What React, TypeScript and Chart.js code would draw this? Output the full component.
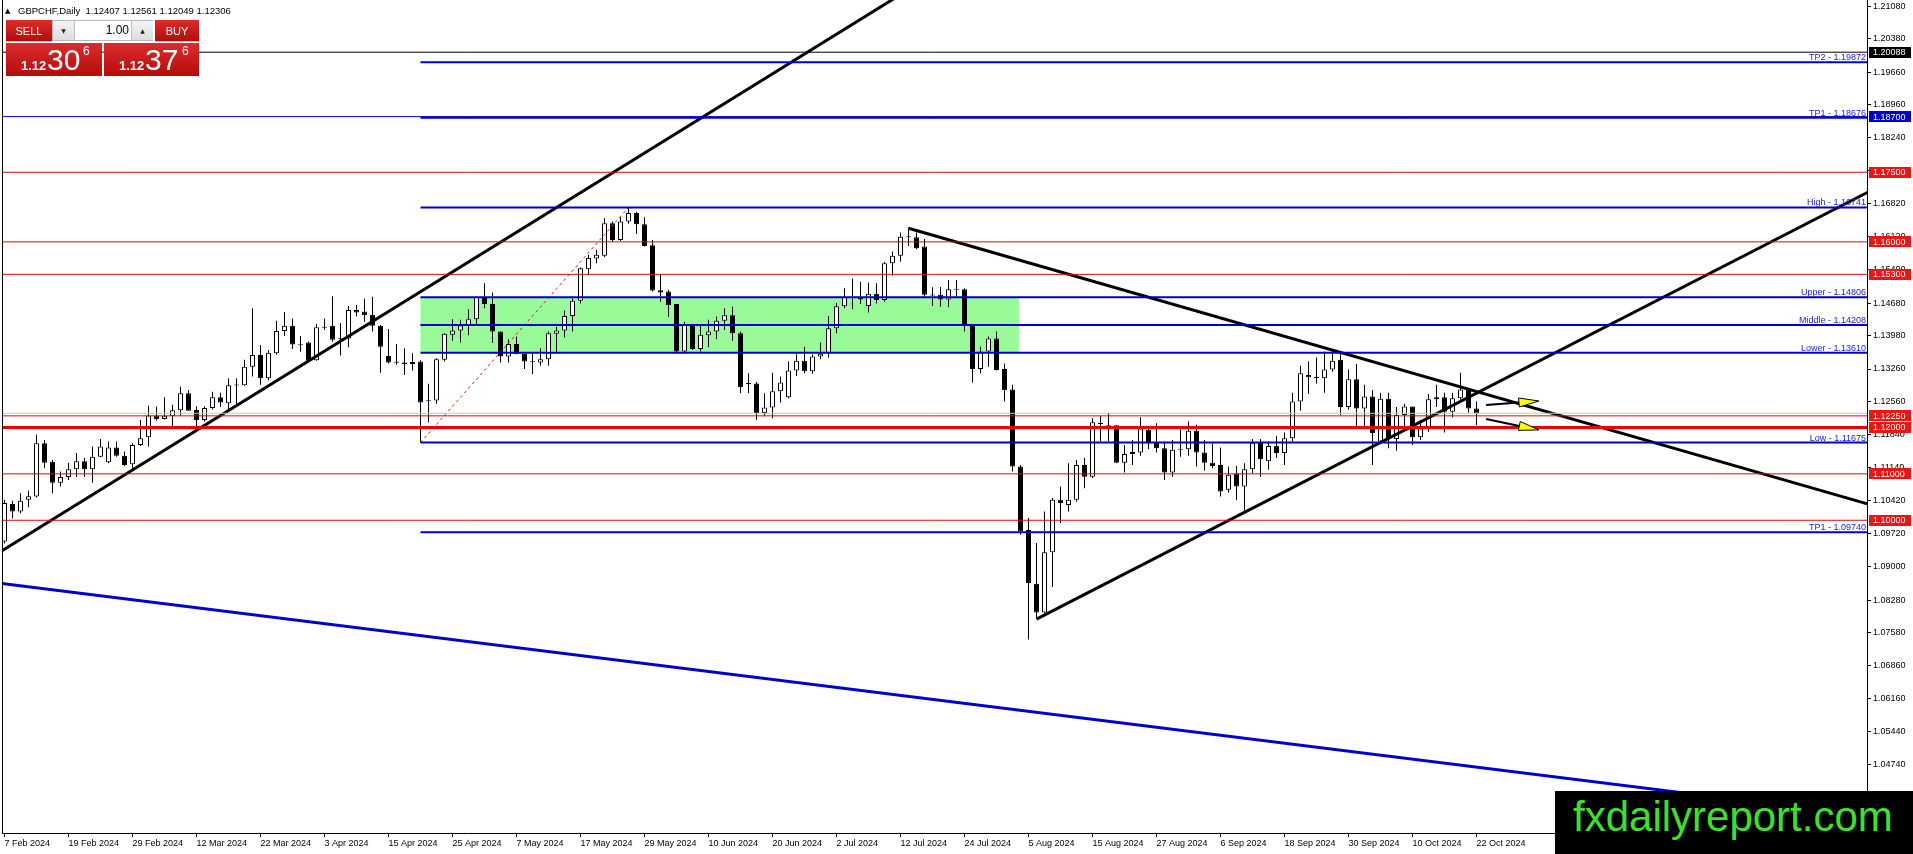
import React, { useEffect, useRef } from "react";
import { Chart, registerables } from "chart.js";

Chart.register(...registerables);

const FONT = '"Liberation Sans", Arial, sans-serif';

// ---- candles (daily, bar 0 = 7 Feb 2024) ----
const OPEN = [
  1.0954, 1.1035, 1.1019, 1.1044, 1.1051, 1.1166, 1.1126, 1.1081, 1.1093, 1.1110,
  1.1127, 1.1110, 1.1137, 1.1125, 1.1157, 1.1139, 1.1121, 1.1162, 1.1179, 1.1226,
  1.1218, 1.1224, 1.1237, 1.1274, 1.1238, 1.1216, 1.1242, 1.1265, 1.1252, 1.1291,
  1.1291, 1.1331, 1.1356, 1.1306, 1.1360, 1.1408, 1.1419, 1.1379, 1.1383, 1.1345,
  1.1417, 1.1419, 1.1392, 1.1392, 1.1453, 1.1450, 1.1443, 1.1419, 1.1354, 1.1341,
  1.1340, 1.1337, 1.1342, 1.1258, 1.1258, 1.1346, 1.1400, 1.1409, 1.1420, 1.1433,
  1.1481, 1.1466, 1.1407, 1.1353, 1.1380, 1.1359, 1.1342, 1.1340, 1.1347, 1.1402,
  1.1409, 1.1440, 1.1473, 1.1541, 1.1564, 1.1570, 1.1640, 1.1604, 1.1644, 1.1662,
  1.1638, 1.1593, 1.1496, 1.1493, 1.1466, 1.1364, 1.1421, 1.1369, 1.1399, 1.1407,
  1.1430, 1.1442, 1.1403, 1.1294, 1.1295, 1.1231, 1.1243, 1.1278, 1.1265, 1.1323,
  1.1344, 1.1321, 1.1353, 1.1361, 1.1414, 1.1461, 1.1481, 1.1481, 1.1462, 1.1488,
  1.1475, 1.1554, 1.1570, 1.1611, 1.1610, 1.1590, 1.1486, 1.1486, 1.1476, 1.1498,
  1.1498, 1.1419, 1.1326, 1.1364, 1.1392, 1.1326, 1.1282, 1.1116, 1.0979, 1.0863,
  1.0801, 1.0931, 1.1044, 1.1033, 1.1044, 1.1119, 1.1094, 1.1209, 1.1196, 1.1205,
  1.1124, 1.1143, 1.1146, 1.1195, 1.1167, 1.1155, 1.1103, 1.1153, 1.1153, 1.1193,
  1.1146, 1.1124, 1.1119, 1.1066, 1.1101, 1.1073, 1.1110, 1.1167, 1.1127, 1.1160,
  1.1145, 1.1177, 1.1256, 1.1313, 1.1307, 1.1306, 1.1325, 1.1346, 1.1244, 1.1304,
  1.1241, 1.1267, 1.1170, 1.1262, 1.1175, 1.1227, 1.1245, 1.1179, 1.1198, 1.1261,
  1.1265, 1.1234, 1.1263, 1.1282, 1.12407,
];
const HIGH = [
  1.1044, 1.1042, 1.1058, 1.1064, 1.1185, 1.1173, 1.1130, 1.1105, 1.1124, 1.1145,
  1.1134, 1.1159, 1.1175, 1.1170, 1.1170, 1.1148, 1.1166, 1.1216, 1.1247, 1.1245,
  1.1265, 1.1249, 1.1288, 1.1281, 1.1246, 1.1246, 1.1277, 1.1275, 1.1306, 1.1306,
  1.1346, 1.1457, 1.1378, 1.1367, 1.1430, 1.1449, 1.1435, 1.1397, 1.1385, 1.1423,
  1.1435, 1.1483, 1.1425, 1.1462, 1.1464, 1.1478, 1.1482, 1.1421, 1.1412, 1.1380,
  1.1371, 1.1360, 1.1345, 1.1294, 1.1349, 1.1403, 1.1433, 1.1432, 1.1455, 1.1482,
  1.1511, 1.1491, 1.1407, 1.1390, 1.1396, 1.1359, 1.1361, 1.1371, 1.1407, 1.1417,
  1.1452, 1.1478, 1.1545, 1.1572, 1.1583, 1.1651, 1.1644, 1.1653, 1.16741, 1.1665,
  1.1653, 1.1604, 1.1529, 1.1497, 1.1466, 1.1428, 1.1423, 1.1421, 1.1432, 1.1439,
  1.1457, 1.1460, 1.1407, 1.1317, 1.1298, 1.1274, 1.1318, 1.1310, 1.1342, 1.1358,
  1.1374, 1.1358, 1.1383, 1.1440, 1.1468, 1.1500, 1.1521, 1.1514, 1.1512, 1.1511,
  1.1557, 1.1579, 1.1620, 1.1631, 1.1620, 1.1606, 1.1502, 1.1503, 1.1518, 1.1518,
  1.1500, 1.1421, 1.1374, 1.1396, 1.1407, 1.1338, 1.1292, 1.1119, 1.1005, 1.0951,
  1.1019, 1.1048, 1.1073, 1.1123, 1.1130, 1.1134, 1.1220, 1.1225, 1.1232, 1.1205,
  1.1162, 1.1173, 1.1222, 1.1203, 1.1209, 1.1170, 1.1173, 1.1196, 1.1213, 1.1206,
  1.1173, 1.1166, 1.1157, 1.1116, 1.1117, 1.1123, 1.1175, 1.1175, 1.1170, 1.1182,
  1.1189, 1.1275, 1.1333, 1.1342, 1.1351, 1.1364, 1.1369, 1.1359, 1.1325, 1.1337,
  1.1292, 1.1281, 1.1275, 1.1275, 1.1244, 1.1251, 1.1245, 1.1216, 1.1272, 1.1292,
  1.1275, 1.1275, 1.1318, 1.1284, 1.12561,
];
const LOW = [
  1.0950, 1.1004, 1.1015, 1.1028, 1.1049, 1.1112, 1.1058, 1.1073, 1.1087, 1.1093,
  1.1094, 1.1081, 1.1136, 1.1123, 1.1137, 1.1117, 1.1109, 1.1160, 1.1159, 1.1215,
  1.1217, 1.1203, 1.1225, 1.1236, 1.1198, 1.1213, 1.1239, 1.1244, 1.1238, 1.1249,
  1.1290, 1.1310, 1.1292, 1.1302, 1.1357, 1.1397, 1.1369, 1.1363, 1.1342, 1.1344,
  1.1410, 1.1385, 1.1355, 1.1373, 1.1439, 1.1428, 1.1407, 1.1318, 1.1338, 1.1335,
  1.1313, 1.1323, 1.11675, 1.1211, 1.1251, 1.1342, 1.1387, 1.1383, 1.1399, 1.1421,
  1.1457, 1.1382, 1.1340, 1.1340, 1.1358, 1.1326, 1.1315, 1.1333, 1.1333, 1.1360,
  1.1394, 1.1407, 1.1467, 1.1529, 1.1554, 1.1567, 1.1600, 1.1602, 1.1639, 1.1617,
  1.1590, 1.1493, 1.1471, 1.1438, 1.1360, 1.1360, 1.1367, 1.1364, 1.1373, 1.1390,
  1.1410, 1.1387, 1.1274, 1.1274, 1.1216, 1.1224, 1.1220, 1.1254, 1.1263, 1.1311,
  1.1317, 1.1316, 1.1347, 1.1351, 1.1403, 1.1457, 1.1455, 1.1466, 1.1448, 1.1467,
  1.1471, 1.1527, 1.1557, 1.1591, 1.1584, 1.1482, 1.1462, 1.1460, 1.1459, 1.1482,
  1.1407, 1.1297, 1.1317, 1.1331, 1.1323, 1.1256, 1.1105, 1.0969, 1.0743, 1.0787,
  1.0800, 1.0856, 1.0994, 1.1019, 1.1040, 1.1069, 1.1091, 1.1170, 1.1170, 1.1123,
  1.1103, 1.1119, 1.1139, 1.1153, 1.1146, 1.1087, 1.1094, 1.1137, 1.1139, 1.1116,
  1.1107, 1.1112, 1.1051, 1.1060, 1.1043, 1.1021, 1.1101, 1.1094, 1.1109, 1.1134,
  1.1119, 1.1170, 1.1236, 1.1272, 1.1295, 1.1275, 1.1320, 1.1227, 1.1238, 1.1202,
  1.1202, 1.1119, 1.1165, 1.1155, 1.1150, 1.1201, 1.1162, 1.1173, 1.1191, 1.1244,
  1.1189, 1.1222, 1.1260, 1.1232, 1.12049,
];
const CLOSE = [
  1.1037, 1.1019, 1.1042, 1.1052, 1.1166, 1.1124, 1.1081, 1.1093, 1.1110, 1.1127,
  1.1110, 1.1137, 1.1159, 1.1157, 1.1139, 1.1119, 1.1162, 1.1177, 1.1226, 1.1218,
  1.1225, 1.1237, 1.1274, 1.1236, 1.1216, 1.1242, 1.1265, 1.1254, 1.1291, 1.1292,
  1.1331, 1.1356, 1.1306, 1.1361, 1.1408, 1.1419, 1.1379, 1.1378, 1.1344, 1.1416,
  1.1415, 1.1389, 1.1390, 1.1453, 1.1448, 1.1442, 1.1419, 1.1374, 1.1340, 1.1340,
  1.1337, 1.1341, 1.1254, 1.1257, 1.1347, 1.1402, 1.1409, 1.1420, 1.1433, 1.1481,
  1.1466, 1.1407, 1.1353, 1.1380, 1.1359, 1.1342, 1.1341, 1.1347, 1.1403, 1.1409,
  1.1440, 1.1473, 1.1543, 1.1565, 1.1572, 1.1640, 1.1604, 1.1644, 1.1662, 1.1638,
  1.1591, 1.1495, 1.1491, 1.1464, 1.1364, 1.1421, 1.1369, 1.1400, 1.1407, 1.1430,
  1.1442, 1.1403, 1.1287, 1.1295, 1.1231, 1.1243, 1.1278, 1.1297, 1.1323, 1.1344,
  1.1321, 1.1353, 1.1359, 1.1414, 1.1461, 1.1481, 1.1480, 1.1476, 1.1488, 1.1475,
  1.1554, 1.1570, 1.1611, 1.1611, 1.1586, 1.1486, 1.1485, 1.1476, 1.1498, 1.1498,
  1.1419, 1.1326, 1.1364, 1.1392, 1.1324, 1.1281, 1.1116, 1.0976, 1.0865, 1.0801,
  1.0931, 1.1044, 1.1037, 1.1044, 1.1119, 1.1094, 1.1211, 1.1208, 1.1205, 1.1124,
  1.1143, 1.1147, 1.1198, 1.1166, 1.1155, 1.1103, 1.1152, 1.1153, 1.1193, 1.1146,
  1.1124, 1.1117, 1.1062, 1.1098, 1.1073, 1.1110, 1.1167, 1.1132, 1.1160, 1.1145,
  1.1177, 1.1256, 1.1317, 1.1308, 1.1308, 1.1325, 1.1344, 1.1244, 1.1304, 1.1241,
  1.1267, 1.1188, 1.1262, 1.1175, 1.1227, 1.1245, 1.1179, 1.1198, 1.1261, 1.1265,
  1.1234, 1.1263, 1.1282, 1.1241, 1.12306,
];

// ---- axes ----
const DATE_LABELS = [
  "7 Feb 2024", "19 Feb 2024", "29 Feb 2024", "12 Mar 2024", "22 Mar 2024", "3 Apr 2024",
  "15 Apr 2024", "25 Apr 2024", "7 May 2024", "17 May 2024", "29 May 2024", "10 Jun 2024",
  "20 Jun 2024", "2 Jul 2024", "12 Jul 2024", "24 Jul 2024", "5 Aug 2024", "15 Aug 2024",
  "27 Aug 2024", "6 Sep 2024", "18 Sep 2024", "30 Sep 2024", "10 Oct 2024", "22 Oct 2024",
];
const DATE_TICK_BARS = [0, 8, 16, 24, 32, 40, 48, 56, 64, 72, 80, 88, 96, 104, 112, 120, 128, 136, 144, 152, 160, 168, 176, 184];
const PRICE_TICKS = [
  1.2108, 1.2038, 1.1966, 1.1896, 1.1824, 1.1754, 1.1682, 1.1612, 1.154, 1.1468, 1.1398, 1.1326,
  1.1256, 1.1184, 1.1114, 1.1042, 1.0972, 1.09, 1.0828, 1.0758, 1.0686, 1.0616, 1.0544, 1.0474, 1.0402,
];
const X_MIN = -0.3125;
const X_MAX = 232.8125;
const Y_MIN = 1.0326;
const Y_MAX = 1.21213;

// ---- horizontal levels ----
const RED_LEVELS = [1.175, 1.16, 1.153, 1.1225, 1.11, 1.1];
const MAIN_RED_LEVEL = 1.12;
const BID_LEVEL = 1.12306;
const BLACK_LEVEL = 1.20088;
const BLUE_LEVEL = 1.187;
const FIB_START = 52;
const FIB_NAMES = ["TP2", "TP1", "High", "Upper", "Middle", "Lower", "Low", "TP1"];
const FIB_VALUES = [1.19872, 1.18676, 1.16741, 1.14806, 1.14208, 1.1361, 1.11675, 1.0974];
const ZONE_BARS = [52, 126.8];
const ZONE_PRICES = [1.1361, 1.14806];

// axis price markers
const MARK_VALUES = [1.20088, 1.187, 1.175, 1.16, 1.153, 1.1225, 1.12, 1.11, 1.1];
const MARK_COLORS = ["#000000", "#0000cc", "#ea1515", "#ea1515", "#ea1515", "#ea1515", "#ea1515", "#ea1515", "#ea1515"];

// ---- drawn objects (bar index, price) ----
const TREND_UP_1 = [[-0.5, 1.09323], [112.5, 1.21383]];
const TREND_DOWN = [[113, 1.16293], [232.9, 1.10351]];
const TREND_UP_2 = [[129, 1.0787], [232.9, 1.17069]];
const BLUE_CHANNEL = [[-0.5, 1.08642], [232.9, 1.03631]];
const FIB_BASE = [[52, 1.11675], [78, 1.16741]];
const ARROW_UP = [[185.2, 1.12485], [191.8, 1.12571]];
const ARROW_DOWN = [[185.2, 1.12183], [191.8, 1.11946]];

const seg = (pts: number[][], color: string, width: number, dash: number[] = []) => ({
  type: "line" as const,
  data: pts.map(([x, y]) => ({ x, y })),
  borderColor: color,
  borderWidth: width,
  borderDash: dash,
  pointRadius: 0,
  fill: false,
  tension: 0,
  order: 0,
});

const overlayPlugin = {
  id: "mtOverlay",
  beforeDatasetsDraw(chart: any) {
    const { ctx, chartArea: a, scales } = chart;
    const x = scales.x, y = scales.y;
    ctx.save();
    ctx.beginPath();
    ctx.rect(a.left, a.top, a.right - a.left, a.bottom - a.top);
    ctx.clip();
    const x0 = x.getPixelForValue(ZONE_BARS[0]);
    const x1 = x.getPixelForValue(ZONE_BARS[1]);
    const y0 = y.getPixelForValue(ZONE_PRICES[1]);
    const y1 = y.getPixelForValue(ZONE_PRICES[0]);
    ctx.fillStyle = "#98fb98";
    ctx.fillRect(x0, y0, x1 - x0, y1 - y0);
    ctx.restore();
  },
  afterDatasetsDraw(chart: any) {
    const { ctx, chartArea: a, scales } = chart;
    const x = scales.x, y = scales.y;
    ctx.save();
    ctx.font = `9px ${FONT}`;
    ctx.fillStyle = "#2222cc";
    ctx.textAlign = "right";
    ctx.textBaseline = "alphabetic";
    FIB_VALUES.forEach((v, i) => {
      const py = y.getPixelForValue(v);
      ctx.fillText(`${FIB_NAMES[i]} - ${v.toFixed(5)}`, a.right - 1, py - 2);
    });
    const drawArrow = (pts: number[][]) => {
      const x1 = x.getPixelForValue(pts[0][0]);
      const y1 = y.getPixelForValue(pts[0][1]);
      const x2 = x.getPixelForValue(pts[1][0]);
      const y2 = y.getPixelForValue(pts[1][1]);
      const ang = Math.atan2(y2 - y1, x2 - x1);
      const len = 20, hw = 4.5;
      const bx = x2 - len * Math.cos(ang), by = y2 - len * Math.sin(ang);
      ctx.strokeStyle = "#000";
      ctx.lineWidth = 2;
      ctx.beginPath();
      ctx.moveTo(x1, y1);
      ctx.lineTo(bx, by);
      ctx.stroke();
      ctx.beginPath();
      ctx.moveTo(x2, y2);
      ctx.lineTo(bx + hw * Math.sin(ang), by - hw * Math.cos(ang));
      ctx.lineTo(bx - hw * Math.sin(ang), by + hw * Math.cos(ang));
      ctx.closePath();
      ctx.fillStyle = "#ffff00";
      ctx.fill();
      ctx.lineWidth = 1;
      ctx.stroke();
    };
    drawArrow(ARROW_UP);
    drawArrow(ARROW_DOWN);
    ctx.restore();
  },
  afterDraw(chart: any) {
    const { ctx, chartArea: a, scales } = chart;
    const y = scales.y;
    ctx.save();
    ctx.strokeStyle = "#000";
    ctx.lineWidth = 1;
    ctx.beginPath();
    ctx.moveTo(a.left + 0.5, a.top);
    ctx.lineTo(a.left + 0.5, a.bottom);
    ctx.stroke();
    ctx.font = `9px ${FONT}`;
    ctx.textAlign = "left";
    ctx.textBaseline = "middle";
    MARK_VALUES.forEach((v, i) => {
      const py = y.getPixelForValue(v);
      ctx.fillStyle = MARK_COLORS[i];
      ctx.fillRect(a.right + 2, Math.round(py - 5.5), 42, 11);
      ctx.fillStyle = "#ffffff";
      ctx.fillText(v.toFixed(5), a.right + 6, py + 0.5);
    });
    ctx.restore();
  },
};

export default function App() {
  const ref = useRef<HTMLCanvasElement | null>(null);

  useEffect(() => {
    document.body.style.margin = "0";
    if (!ref.current) return;
    const bars = OPEN.map((_, i) => i);
    const wickData = bars.map((i) => ({ x: i, y: [LOW[i], HIGH[i]] }));
    const bodyData = bars.map((i) => {
      let lo = Math.min(OPEN[i], CLOSE[i]);
      let hi = Math.max(OPEN[i], CLOSE[i]);
      if (hi - lo < 0.00022) {
        const m = (hi + lo) / 2;
        lo = m - 0.00011;
        hi = m + 0.00011;
      }
      return { x: i, y: [lo, hi] };
    });

    const datasets: any[] = [
      {
        type: "bar",
        data: wickData,
        backgroundColor: "#000",
        borderWidth: 0,
        barThickness: 1,
        grouped: false,
        inflateAmount: 0,
        order: 3,
      },
      {
        type: "bar",
        data: bodyData,
        backgroundColor: (c: any) => (CLOSE[c.dataIndex] > OPEN[c.dataIndex] ? "#ffffff" : "#000000"),
        borderColor: "#000",
        borderWidth: 1,
        borderSkipped: false,
        barThickness: 5,
        grouped: false,
        inflateAmount: 0,
        order: 2,
      },
      seg([[X_MIN, BLACK_LEVEL], [X_MAX, BLACK_LEVEL]], "#000000", 1),
      seg([[X_MIN, BLUE_LEVEL], [X_MAX, BLUE_LEVEL]], "#0000cc", 1),
      ...RED_LEVELS.map((v) => seg([[X_MIN, v], [X_MAX, v]], "#cc1010", 1)),
      seg([[X_MIN, BID_LEVEL], [X_MAX, BID_LEVEL]], "#e8b8b8", 1),
      seg([[X_MIN, MAIN_RED_LEVEL], [X_MAX, MAIN_RED_LEVEL]], "#ee0000", 3),
      ...FIB_VALUES.map((v) => seg([[FIB_START, v], [X_MAX, v]], "#0000c8", 2)),
      seg(FIB_BASE, "#dd2222", 1, [3, 3]),
      seg(BLUE_CHANNEL, "#0000cc", 3),
      seg(TREND_UP_1, "#000000", 3),
      seg(TREND_DOWN, "#000000", 3),
      seg(TREND_UP_2, "#000000", 3),
    ];

    const chart = new Chart(ref.current, {
      type: "line",
      data: { datasets },
      plugins: [overlayPlugin],
      options: {
        animation: false,
        responsive: false,
        devicePixelRatio: 1,
        events: [],
        layout: { padding: { left: 2, right: 0, top: 0, bottom: 0 } },
        plugins: { legend: { display: false }, tooltip: { enabled: false } },
        scales: {
          x: {
            type: "linear",
            position: "bottom",
            offset: false,
            min: X_MIN,
            max: X_MAX,
            afterBuildTicks: (s: any) => {
              s.ticks = DATE_TICK_BARS.map((v) => ({ value: v }));
            },
            afterFit: (s: any) => {
              s.height = 21;
              s.paddingLeft = 0;
              s.paddingRight = 0;
            },
            ticks: {
              callback: (_v: any, i: number) => DATE_LABELS[i],
              align: "start",
              maxRotation: 0,
              minRotation: 0,
              autoSkip: false,
              padding: 1,
              color: "#000",
              font: { family: FONT, size: 9 },
            },
            grid: { offset: false, drawOnChartArea: false, drawTicks: true, tickLength: 4, tickColor: "#000", color: "#000" },
            border: { display: true, color: "#000", width: 1 },
          },
          y: {
            type: "linear",
            position: "right",
            beginAtZero: false,
            min: Y_MIN,
            max: Y_MAX,
            afterBuildTicks: (s: any) => {
              s.ticks = PRICE_TICKS.map((v) => ({ value: v }));
            },
            afterFit: (s: any) => {
              s.width = 46;
              s.paddingTop = 0;
              s.paddingBottom = 0;
            },
            ticks: {
              callback: (v: any) => Number(v).toFixed(5),
              autoSkip: false,
              padding: 2,
              color: "#000",
              font: { family: FONT, size: 9 },
            },
            grid: { drawOnChartArea: false, drawTicks: true, tickLength: 4, tickColor: "#000", color: "#000" },
            border: { display: true, color: "#000", width: 1 },
          },
        },
      } as any,
    });
    return () => chart.destroy();
  }, []);

  const redBox = "linear-gradient(#dc2c2c, #b40c0c)";
  const abs = (o: any) => ({ position: "absolute" as const, ...o });

  return (
    <div style={{ position: "relative", width: 1913, height: 854, background: "#fff", overflow: "hidden", fontFamily: FONT }}>
      <canvas ref={ref} width={1913} height={854} style={{ display: "block", width: 1913, height: 854 }} />

      <div style={abs({ left: 5, top: 8, fontSize: 7, lineHeight: "7px", fontFamily: '"DejaVu Sans", sans-serif', color: "#000" })}>▲</div>
      <div style={abs({ left: 18, top: 6, fontSize: 9.5, lineHeight: "10px", color: "#000", whiteSpace: "pre" })}>
        GBPCHF,Daily  1.12407 1.12561 1.12049 1.12306
      </div>

      <div style={abs({ left: 6, top: 20, width: 46, height: 22, background: redBox, color: "#fff", fontSize: 11, lineHeight: "22px", textAlign: "center", borderBottom: "1px solid #f3b0b0", boxSizing: "border-box" })}>SELL</div>
      <div style={abs({ left: 52, top: 20, width: 101, height: 21, background: "#fff", border: "1px solid #b8b8b8", boxSizing: "border-box" })}>
        <div style={abs({ left: 0, top: 0, width: 21, height: 19, background: "linear-gradient(#f4f4f4,#dcdcdc)", borderRight: "1px solid #c0c0c0", fontSize: 6, lineHeight: "19px", textAlign: "center", fontFamily: '"DejaVu Sans", sans-serif', color: "#222" })}>▼</div>
        <div style={abs({ left: 22, top: 0, width: 54, height: 19, fontSize: 12, lineHeight: "19px", textAlign: "right", color: "#000" })}>1.00</div>
        <div style={abs({ left: 78, top: 0, width: 21, height: 19, background: "linear-gradient(#f4f4f4,#dcdcdc)", borderLeft: "1px solid #c0c0c0", fontSize: 6, lineHeight: "19px", textAlign: "center", fontFamily: '"DejaVu Sans", sans-serif', color: "#222" })}>▲</div>
      </div>
      <div style={abs({ left: 155, top: 20, width: 44, height: 22, background: redBox, color: "#fff", fontSize: 11, lineHeight: "22px", textAlign: "center", borderBottom: "1px solid #f3b0b0", boxSizing: "border-box" })}>BUY</div>

      <div style={abs({ left: 6, top: 43, width: 96, height: 33, background: redBox, color: "#fff" })}>
        <span style={abs({ left: 15, top: 16, fontSize: 13, lineHeight: "13px", fontWeight: "bold" })}>1.12</span>
        <span style={abs({ left: 41, top: 2, fontSize: 30, lineHeight: "30px" })}>30</span>
        <span style={abs({ left: 77, top: 2, fontSize: 12, lineHeight: "12px" })}>6</span>
      </div>
      <div style={abs({ left: 104, top: 43, width: 95, height: 33, background: redBox, color: "#fff" })}>
        <span style={abs({ left: 15, top: 16, fontSize: 13, lineHeight: "13px", fontWeight: "bold" })}>1.12</span>
        <span style={abs({ left: 41, top: 2, fontSize: 30, lineHeight: "30px" })}>37</span>
        <span style={abs({ left: 78, top: 2, fontSize: 12, lineHeight: "12px" })}>6</span>
      </div>

      <div style={abs({ left: 1555, top: 791, width: 358, height: 63, background: "#000" })}>
        <span style={abs({ left: 18, top: 5, fontSize: 42, lineHeight: "42px", color: "#3ee02a", whiteSpace: "nowrap" })}>fxdailyreport.com</span>
      </div>
    </div>
  );
}
